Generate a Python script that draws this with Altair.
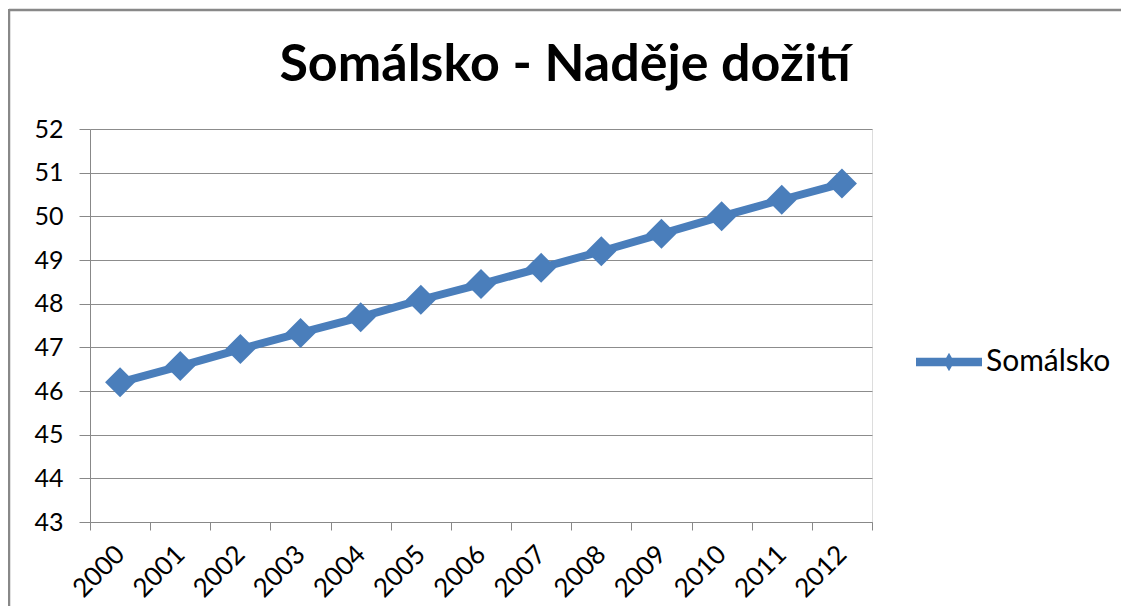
import altair as alt
import pandas as pd

years = ["2000", "2001", "2002", "2003", "2004", "2005", "2006",
         "2007", "2008", "2009", "2010", "2011", "2012"]
values = [46.2, 46.57, 46.96, 47.33, 47.69, 48.09, 48.45,
          48.82, 49.2, 49.6, 50.0, 50.38, 50.75]
series = ["Somálsko"] * len(years)

df = pd.DataFrame({"year": years, "value": values, "series": series})

BLUE = "#4A7EBB"
FONT = "Lato"

x_enc = alt.X(
    "year:O",
    title=None,
    scale=alt.Scale(type="band", paddingInner=0, paddingOuter=0),
    axis=alt.Axis(
        labelAngle=-45, labelAlign="right", labelBaseline="middle",
        labelFontSize=26, labelFont=FONT, labelColor="#000000",
        tickBand="extent", ticks=True, tickSize=8, tickColor="#888888",
        domainColor="#888888", grid=False, labelPadding=20,
    ),
)
y_enc = alt.Y(
    "value:Q",
    title=None,
    scale=alt.Scale(domain=[43, 52], nice=False, zero=False),
    axis=alt.Axis(
        values=[43, 44, 45, 46, 47, 48, 49, 50, 51, 52],
        labelFontSize=25, labelFont=FONT, labelColor="#000000",
        tickSize=11, tickColor="#888888", domainColor="#888888",
        gridColor="#8c8c8c", gridWidth=1, labelPadding=16,
    ),
)
color_enc = alt.Color(
    "series:N",
    scale=alt.Scale(range=[BLUE]),
    legend=alt.Legend(
        title=None, orient="none", legendX=826, legendY=200,
        symbolType="M-1,-0.13L1,-0.13L1,0.13L-1,0.13Z M-0.16,0L0,-0.28L0.16,0L0,0.28Z",
        symbolSize=4356, symbolFillColor=BLUE, symbolStrokeWidth=0,
        labelFontSize=30, labelFont=FONT, labelColor="#000000", labelOffset=4,
    ),
)

line = alt.Chart(df).mark_line(strokeWidth=8).encode(x=x_enc, y=y_enc, color=color_enc)
points = alt.Chart(df).mark_point(shape="diamond", size=900, filled=True, opacity=1).encode(
    x=x_enc, y=y_enc, color=color_enc
)

frame_data = alt.Data(values=[{"f": 1}])
frame_top = alt.Chart(frame_data).mark_rule(stroke="#888888", strokeWidth=2.5).encode(
    x=alt.value(-81), x2=alt.value(1100), y=alt.value(-119)
)
frame_left = alt.Chart(frame_data).mark_rule(stroke="#888888", strokeWidth=2.5).encode(
    x=alt.value(-81), y=alt.value(-120), y2=alt.value(520)
)

chart = alt.layer(frame_top, frame_left, line, points).properties(
    width=782,
    height=393,
    title=alt.Title(
        "Somálsko - Naděje dožití", fontSize=52, font=FONT, fontWeight="bold",
        color="#000000", anchor="middle", frame="group", dx=84, offset=0, dy=84,
    ),
    autosize=alt.AutoSizeParams(type="none"),
    padding={"left": 82, "top": 121, "right": 249, "bottom": 84},
).configure_view(stroke=None).configure(background="white")

chart.save("out.html", embed_options={"renderer": "svg", "actions": False})
